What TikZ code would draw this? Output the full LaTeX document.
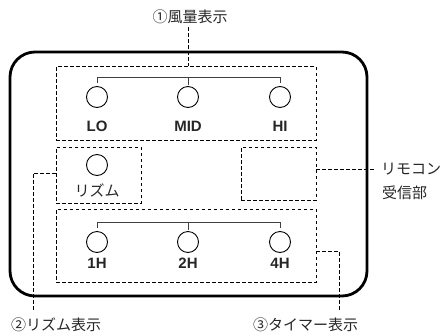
\documentclass[tikz,border=0pt]{standalone}
\usepackage{fontspec}
\setmainfont{Liberation Sans}
\newfontfamily\jpfont{Noto Sans CJK JP}
\begin{document}
\begin{tikzpicture}[x=1pt,y=-1pt,
 dbox/.style={draw, dash pattern=on 3.5pt off 2.5pt, line width=0.8pt, inner sep=0pt, rectangle},
 lamp/.style={draw, circle, minimum size=21pt, inner sep=0pt, line width=0.9pt},
 lbl/.style={font=\fontsize{15}{15}\selectfont\bfseries, inner sep=0pt, text=black!85},
 jtxt/.style={font=\jpfont\fontsize{15}{15}\selectfont, inner sep=0pt, text=black!85},
 lead/.style={dash pattern=on 3.5pt off 2.5pt, line width=0.8pt},
 brk/.style={line width=0.8pt, draw=black!75}]
\useasboundingbox (0,0) rectangle (444,335);
% outer panel
\node[draw, rounded corners=25pt, line width=2.8pt, minimum width=357pt, minimum height=244pt, inner sep=0pt] (panel) at (188.5,174) {};
% dashed areas
\node[dbox, minimum width=260pt, minimum height=73.5pt] (fan) at (186,103.25) {};
\node[dbox, minimum width=85pt, minimum height=56pt] (rhy) at (98.5,175) {};
\node[dbox, minimum width=75pt, minimum height=53pt] (rem) at (278.5,173.5) {};
\node[dbox, minimum width=260pt, minimum height=73pt] (tim) at (186,245.5) {};
% fan lamps
\node[lamp] (lo) at (97,97) {};
\node[lamp] (md) at (188,97) {};
\node[lamp] (hi) at (280,97) {};
\node[lbl] (tlo) at (97,126) {LO};
\node[lbl] (tmd) at (188,126) {MID};
\node[lbl] (thi) at (280,126) {HI};
\draw[brk] ([yshift=3pt]lo.north) |- ([yshift=8.5pt]md.north) -| ([yshift=3pt]hi.north);
\draw[brk] ([yshift=1.5pt]md.north) -- ([yshift=8.5pt]md.north);
% rhythm lamp
\node[lamp] (rl) at (97,165) {};
\node[jtxt] (trl) at (97,190) {リズム};
% timer lamps
\node[lamp] (h1) at (97,242) {};
\node[lamp] (h2) at (188,242) {};
\node[lamp] (h4) at (280,242) {};
\node[lbl] (th1) at (97,263) {1H};
\node[lbl] (th2) at (188,263) {2H};
\node[lbl] (th4) at (280,263) {4H};
\draw[brk] ([yshift=3pt]h1.north) |- ([yshift=8.5pt]h2.north) -| ([yshift=3pt]h4.north);
\draw[brk] ([yshift=1.5pt]h2.north) -- ([yshift=8.5pt]h2.north);
% labels
\node[jtxt] (lfan) at (190,17) {①風量表示};
\node[jtxt, anchor=west] (lrem1) at (381,169) {リモコン};
\node[jtxt, anchor=west] (lrem2) at (382,193) {受信部};
\node[jtxt, anchor=west] (lrhy) at (11,325) {②リズム表示};
\node[jtxt, anchor=west] (ltim) at (253,325) {③タイマー表示};
% leaders
\draw[lead] ([yshift=-3pt]md.north |- lfan.south) -- (md.north |- fan.north);
\coordinate (rmend) at (375,169);
\draw[lead] (rem.east |- rmend) -- (rmend);
\coordinate (rhend) at (33,312);
\draw[lead] ([yshift=2pt]rhy.west) -| (rhend);
\coordinate (tmend) at (339,312);
\draw[lead] ([yshift=-5.5pt]tim.east) -| (tmend);
\end{tikzpicture}
\end{document}
